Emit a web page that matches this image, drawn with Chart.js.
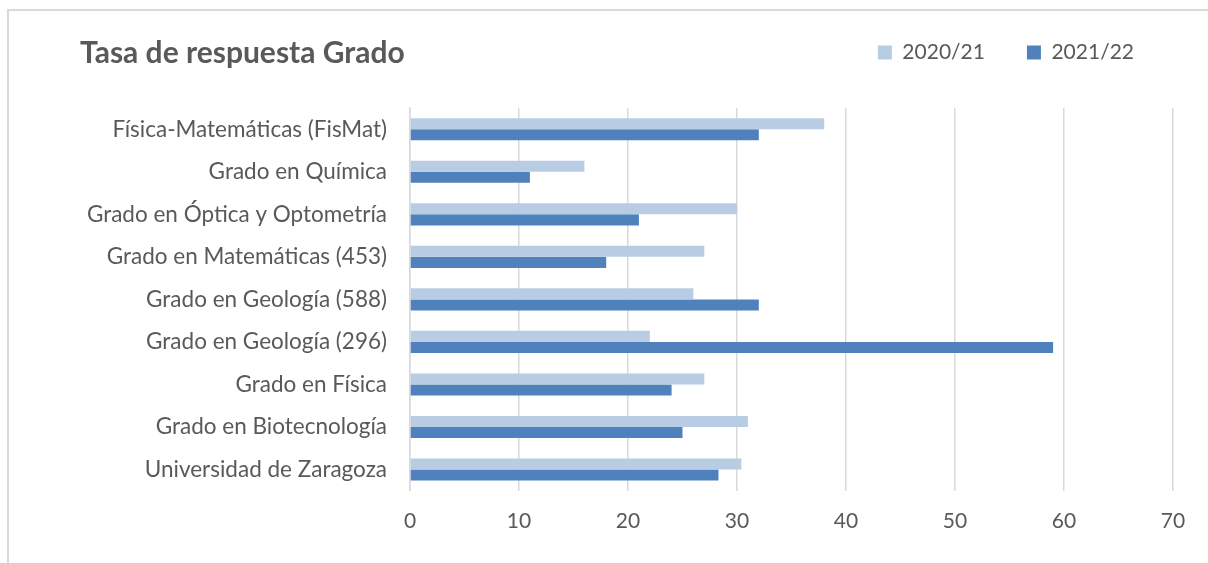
<!DOCTYPE html>
<html>
<head>
<meta charset="utf-8">
<script src="https://cdn.jsdelivr.net/npm/chart.js@4"></script>
<style>
  html, body { margin: 0; padding: 0; background: #fff; }
  #wrap { position: relative; width: 1208px; height: 563px; overflow: hidden; }
  #frame { position: absolute; left: 7px; top: 9px; width: 1300px; height: 700px;
           border-left: 2px solid #d9d9d9; border-top: 2px solid #d9d9d9; pointer-events: none; }
  #title { position: absolute; left: 80px; top: 33px; font-family: Lato, sans-serif; font-weight: bold;
           font-size: 30px; color: #595959; white-space: nowrap; line-height: 36px; }
  canvas { position: absolute; left: 0; top: 0; }
</style>
</head>
<body>
<div id="wrap">
  <canvas id="c" width="1208" height="563"></canvas>
  <div id="frame"></div>
  <div id="title">Tasa de respuesta Grado</div>
</div>
<script>
const categories = [
  "Física-Matemáticas (FisMat)",
  "Grado en Química",
  "Grado en Óptica y Optometría",
  "Grado en Matemáticas (453)",
  "Grado en Geología (588)",
  "Grado en Geología (296)",
  "Grado en Física",
  "Grado en Biotecnología",
  "Universidad de Zaragoza"
];
const seriesNames = ["2020/21", "2021/22"];
const values2020 = [38, 16, 30, 27, 26, 22, 27, 31, 30.4];
const values2021 = [32, 11, 21, 18, 32, 59, 24, 25, 28.3];
const xTicks = [0, 10, 20, 30, 40, 50, 60, 70];

const textColor = "#595959";
const fontFamily = "Lato, sans-serif";

const legendShift = {
  id: "legendShift",
  beforeInit(chart) {
    const lg = chart.legend;
    const fit = lg.fit;
    lg.fit = function () { fit.call(this); this.height = 108; };
  },
  afterLayout(chart) {
    const lg = chart.legend;
    lg.right = 1176;
    lg.width = lg.right - lg.left;
  }
};

new Chart(document.getElementById("c"), {
  type: "bar",
  data: {
    labels: categories,
    datasets: [
      { label: seriesNames[0], data: values2020, backgroundColor: "#B8CCE4", borderWidth: 0,
        categoryPercentage: 0.52, barPercentage: 1.0 },
      { label: seriesNames[1], data: values2021, backgroundColor: "#4F81BD", borderWidth: 0,
        categoryPercentage: 0.52, barPercentage: 1.0 }
    ]
  },
  options: {
    indexAxis: "y",
    responsive: false,
    animation: false,
    events: [],
    layout: { padding: { left: 20, right: 35, top: 0, bottom: 11 } },
    plugins: {
      title: { display: false },
      tooltip: { enabled: false },
      legend: {
        position: "top",
        align: "end",
        labels: {
          color: textColor,
          font: { family: fontFamily, size: 21 },
          boxWidth: 14,
          boxHeight: 14,
          padding: 42
        }
      }
    },
    scales: {
      x: {
        min: 0, max: 70,
        afterBuildTicks(axis) { axis.ticks = xTicks.map(v => ({ value: v })); },
        ticks: { color: textColor, font: { family: fontFamily, size: 21 }, padding: 18 },
        grid: { color: "#d9d9d9", lineWidth: 1.5, drawTicks: false },
        border: { display: false }
      },
      y: {
        afterFit(axis) { axis.width = 390; },
        ticks: { color: textColor, font: { family: fontFamily, size: 22.5 }, padding: 23 },
        grid: { display: false, drawTicks: false },
        border: { display: true, color: "#d9d9d9", width: 1.5 }
      }
    }
  },
  plugins: [legendShift]
});
</script>
</body>
</html>
